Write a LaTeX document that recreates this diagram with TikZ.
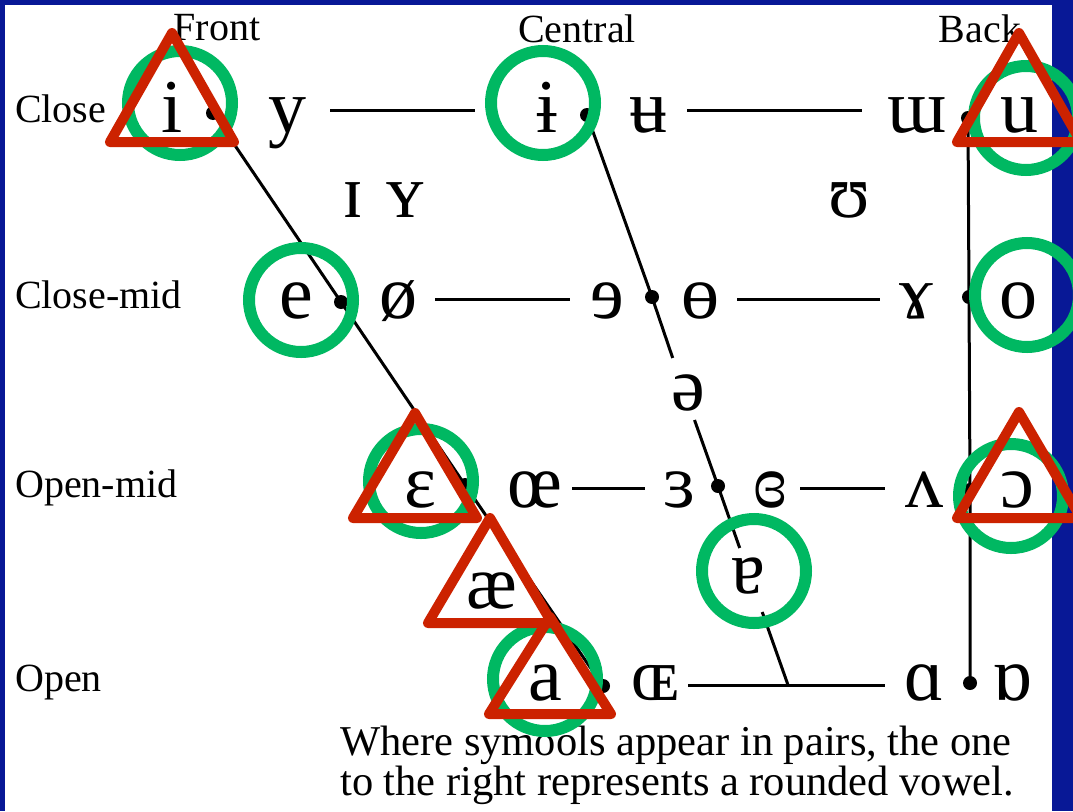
\documentclass[tikz,border=0pt]{standalone}
\usepackage{fontspec}
\setmainfont{Liberation Serif}
\newcommand\ipaglyph[1]{\scalebox{1.9}{#1}}
\definecolor{bgblue}{RGB}{8,24,150}
\definecolor{ringgreen}{RGB}{0,184,98}
\definecolor{trired}{RGB}{204,34,0}
\begin{document}
\begin{tikzpicture}[x=1pt,y=-1pt,
  lbl/.style={font=\fontsize{40}{40}\selectfont, inner sep=0pt, anchor=base west},
  hdr/.style={font=\fontsize{40}{40}\selectfont, inner sep=0pt, anchor=base},
  capt/.style={font=\fontsize{42.5}{42.5}\selectfont, inner sep=0pt, anchor=base west},
  ipa/.style={font=\fontsize{40}{40}\selectfont, inner sep=0pt, anchor=base},
  vdot/.style={circle, fill=black, inner sep=0pt, minimum size=14pt},
  ln/.style={line width=3pt},
  ring/.style={draw=ringgreen, line width=12pt},
  tri/.style={draw=trired, line width=10pt, line join=round}]
\useasboundingbox (0,0) rectangle (1073,811);
\fill[bgblue] (0,0) rectangle (1073,811);
\fill[white] (5,5) rectangle (1052,811);

% headers
\node[hdr] (hfront) at (217,40) {Front};
\node[hdr] (hcentral) at (577,42) {Central};
\node[hdr] (hback) at (980,42) {Back};
% row labels
\node[lbl] (lclose) at (15,122) {Close};
\node[lbl] (lclosemid) at (15,308) {Close-mid};
\node[lbl] (lopenmid) at (15,497) {Open-mid};
\node[lbl] (lopen) at (15,691) {Open};

% dots
\node[vdot] (d1) at (213,113) {};
\node[vdot] (d2) at (587,115) {};
\node[vdot] (d3) at (968,118) {};
\node[vdot] (d4) at (341,302) {};
\node[vdot] (d5) at (652,297) {};
\node[vdot] (d6) at (969,297) {};
\node[vdot] (d7) at (465,485) {};
\node[vdot] (d8) at (718,486) {};
\node[vdot] (d9) at (970,490) {};
\node[vdot] (d10) at (603,686) {};
\node[vdot] (d11) at (970,683) {};

% vowels
\node[ipa] (vi) at (172,132) {\ipaglyph{i}};
\node[ipa] (vy) at (287,132) {\ipaglyph{y}};
\node[ipa] (vibar) at (547,132) {\ipaglyph{ɨ}};
\node[ipa] (vubar) at (648,132) {\ipaglyph{ʉ}};
\node[ipa] (vmu) at (917,132) {\ipaglyph{ɯ}};
\node[ipa] (vu) at (1019,132) {\ipaglyph{u}};
\node[ipa] (vI) at (353,217) {\ipaglyph{ɪ}};
\node[ipa] (vY) at (405,217) {\ipaglyph{ʏ}};
\node[ipa] (vU) at (849,217) {\ipaglyph{ʊ}};
\node[ipa] (ve) at (296,318) {\ipaglyph{e}};
\node[ipa] (voe) at (398,318) {\ipaglyph{ø}};
\node[ipa] (vrev) at (607,318) {\ipaglyph{ɘ}};
\node[ipa] (vbaro) at (700,318) {\ipaglyph{ɵ}};
\node[ipa] (vgam) at (916,318) {\ipaglyph{ɤ}};
\node[ipa] (vo) at (1018,318) {\ipaglyph{o}};
\node[ipa] (vschwa) at (688,410) {\ipaglyph{ə}};
\node[ipa] (veps) at (420,507) {\ipaglyph{ɛ}};
\node[ipa] (voel) at (535,507) {\ipaglyph{œ}};
\node[ipa] (vreps) at (679,507) {\ipaglyph{ɜ}};
\node[ipa] (vcreps) at (770,507) {\ipaglyph{ɞ}};
\node[ipa] (vwedge) at (924,507) {\ipaglyph{ʌ}};
\node[ipa] (vopeno) at (1017,507) {\ipaglyph{ɔ}};
\node[ipa] (vae) at (492,608) {\ipaglyph{æ}};
\node[ipa] (vturna) at (748,593) {\ipaglyph{ɐ}};
\node[ipa] (va) at (545,700) {\ipaglyph{a}};
\node[ipa] (vOE) at (655,700) {\ipaglyph{ɶ}};
\node[ipa] (valpha) at (924,700) {\ipaglyph{ɑ}};
\node[ipa] (vturnalpha) at (1012,700) {\ipaglyph{ɒ}};

% line end points
\coordinate (c1a) at (330,110); \coordinate (c1b) at (475,110);
\coordinate (c1c) at (687,110); \coordinate (c1d) at (862,110);
\coordinate (c2a) at (435,299); \coordinate (c2b) at (570,299);
\coordinate (c2c) at (737,299); \coordinate (c2d) at (880,299);
\coordinate (c3a) at (572,488); \coordinate (c3b) at (645,488);
\coordinate (c3c) at (800,488); \coordinate (c3d) at (885,488);
\coordinate (c4a) at (688,685); \coordinate (c4b) at (885,685);
\coordinate (cm1) at (672.7,358); \coordinate (cm2) at (694.5,420);
\coordinate (cm3) at (739.7,548); \coordinate (cm4) at (762.2,612);
\coordinate (cm5) at (788,685);

% connectors
\draw[ln] (c1a) -- (c1b);
\draw[ln] (c1c) -- (c1d);
\draw[ln] (c2a) -- (c2b);
\draw[ln] (c2c) -- (c2d);
\draw[ln] (c3a) -- (c3b);
\draw[ln] (c3c) -- (c3d);
\draw[ln] (c4a) -- (c4b);
\draw[ln] (d1.center) -- (d4.center) -- (d7.center) -- (d10.center);
\draw[ln] (d2.center) -- (d5.center) -- (cm1);
\draw[ln] (cm2) -- (d8.center) -- (cm3);
\draw[ln] (cm4) -- (cm5);
\draw[ln] (d3.center) -- (d6.center) -- (d9.center) -- (d11.center);

% caption
\node[capt] (cap1) at (340,755) {Where symools appear in pairs, the one};
\node[capt] (cap2) at (340,795) {to the right represents a rounded vowel.};

% green rings
\draw[ring] (180,103) circle[radius=52pt];
\draw[ring] (543,103) circle[radius=52pt];
\draw[ring] (1026,118) circle[radius=52pt];
\draw[ring] (301,300) circle[radius=52pt];
\draw[ring] (1027,295) circle[radius=52pt];
\draw[ring] (421,481) circle[radius=52pt];
\draw[ring] (1011,496) circle[radius=52pt];
\draw[ring] (754,571) circle[radius=52pt];
\draw[ring] (545,679) circle[radius=52pt];

% red triangles
\draw[tri] (172,33) -- (110,142) -- (234,142) -- cycle;
\draw[tri] (1019,33) -- (957,142) -- (1081,142) -- cycle;
\draw[tri] (415,413) -- (353,518) -- (477,518) -- cycle;
\draw[tri] (490,518) -- (428,623) -- (552,623) -- cycle;
\draw[tri] (550,617) -- (489,714) -- (611,714) -- cycle;
\draw[tri] (1019,412) -- (957,518) -- (1081,518) -- cycle;
\end{tikzpicture}
\end{document}
